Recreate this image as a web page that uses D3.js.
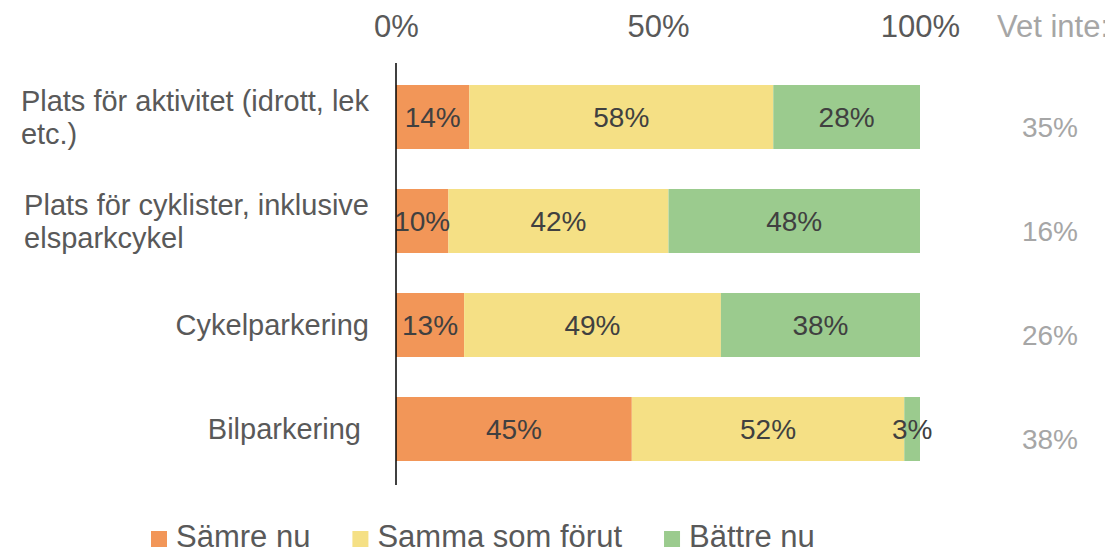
<!DOCTYPE html>
<html>
<head>
<meta charset="utf-8">
<script src="https://cdn.jsdelivr.net/npm/d3@7"></script>
<style>
  body { margin: 0; background: #fff; }
  svg text { font-family: Arial, "Liberation Sans", sans-serif; }
</style>
</head>
<body>
<div id="chart"></div>
<script>
// data
const categories = [
  ['Plats för aktivitet (idrott, lek', 'etc.)'],
  ['Plats för cyklister, inklusive', 'elsparkcykel'],
  ['Cykelparkering'],
  ['Bilparkering ']
];
const seriesNames = ['Sämre nu', 'Samma som förut', 'Bättre nu'];
const worse = [14, 10, 13, 45];
const same = [58, 42, 49, 52];
const better = [28, 48, 38, 3];
const dontKnow = [35, 16, 26, 38];
const xTicks = [0, 50, 100];

const colors = ['#F29658', '#F5E085', '#9BCB8E'];

const w = 1105;
const h = 550;

const svg = d3.select('#chart')
              .append('svg')
              .attr('width', w)
              .attr('height', h);

// scales
const xScale = d3.scaleLinear()
                 .domain([0, 100])
                 .range([396, 920]);

const yScale = d3.scaleBand()
                 .domain(d3.range(categories.length))
                 .range([65, 481])
                 .paddingInner(0.3846)
                 .paddingOuter(0.1923);

// stacked rows
const rows = categories.map((c, i) => ({idx: i, v0: worse[i], v1: same[i], v2: better[i]}));
const stack = d3.stack().keys(['v0', 'v1', 'v2']);
const layers = stack(rows);

const groups = svg.selectAll('g.layer')
  .data(layers)
  .enter()
  .append('g')
  .attr('class', 'layer')
  .attr('fill', (d, i) => colors[i]);

groups.selectAll('rect')
  .data(d => d)
  .enter()
  .append('rect')
  .attr('x', d => xScale(d[0]))
  .attr('y', d => yScale(d.data.idx))
  .attr('width', d => xScale(d[1]) - xScale(d[0]))
  .attr('height', yScale.bandwidth());

// value labels inside bars
layers.forEach(layer => {
  svg.append('g')
     .selectAll('text')
     .data(layer)
     .enter()
     .append('text')
     .attr('x', d => xScale((d[0] + d[1]) / 2))
     .attr('y', d => yScale(d.data.idx) + yScale.bandwidth() / 2 + 10)
     .attr('text-anchor', 'middle')
     .attr('font-size', 28)
     .attr('fill', '#404040')
     .text(d => (d[1] - d[0]) + '%');
});

// top axis
const xAxis = d3.axisTop(xScale)
  .tickValues(xTicks)
  .tickSize(0)
  .tickPadding(0)
  .tickFormat(d => d + '%');

const axisG = svg.append('g')
   .attr('transform', 'translate(0, 37)')
   .call(xAxis);
axisG.select('.domain').remove();
axisG.selectAll('text')
     .attr('font-size', 31)
     .attr('font-family', 'Arial, "Liberation Sans", sans-serif')
     .attr('fill', '#595959')
     .attr('dy', 0);

// vertical axis line
svg.append('line')
   .attr('x1', xScale(0)).attr('x2', xScale(0))
   .attr('y1', yScale.range()[0] - 2)
   .attr('y2', yScale.range()[1] + 4)
   .attr('stroke', '#000')
   .attr('stroke-width', 1.5);

// category labels
categories.forEach((lines, i) => {
  const cy = yScale(i) + yScale.bandwidth() / 2;
  const lineH = 33;
  const t = svg.append('text')
     .attr('font-size', 29)
     .attr('fill', '#595959')
     .style('white-space', 'pre');
  const first = cy + 10 - (lines.length - 1) * lineH / 2;
  const spans = lines.map((l, j) => t.append('tspan')
      .attr('y', first + j * lineH)
      .text(l));
  const maxW = d3.max(spans, s => s.node().getComputedTextLength());
  spans.forEach(s => s.attr('x', 369 - maxW));
});

// "Vet inte" column
svg.append('text')
   .attr('x', 997)
   .attr('y', 37)
   .attr('font-size', 31)
   .attr('fill', '#A6A6A6')
   .text('Vet inte:');

svg.append('g')
   .selectAll('text')
   .data(dontKnow)
   .enter()
   .append('text')
   .attr('x', 1050)
   .attr('y', (d, i) => yScale(i) + yScale.bandwidth() / 2 + 20)
   .attr('text-anchor', 'middle')
   .attr('font-size', 28)
   .attr('fill', '#A6A6A6')
   .text(d => d + '%');

// legend
let lx = 151;
seriesNames.forEach((name, i) => {
  svg.append('rect')
     .attr('x', lx)
     .attr('y', 531)
     .attr('width', 16)
     .attr('height', 16)
     .attr('fill', colors[i]);
  const t = svg.append('text')
     .attr('x', lx + 25)
     .attr('y', 547)
     .attr('font-size', 31)
     .attr('fill', '#595959')
     .text(name);
  lx += 25 + t.node().getComputedTextLength() + 42;
});
</script>
</body>
</html>
